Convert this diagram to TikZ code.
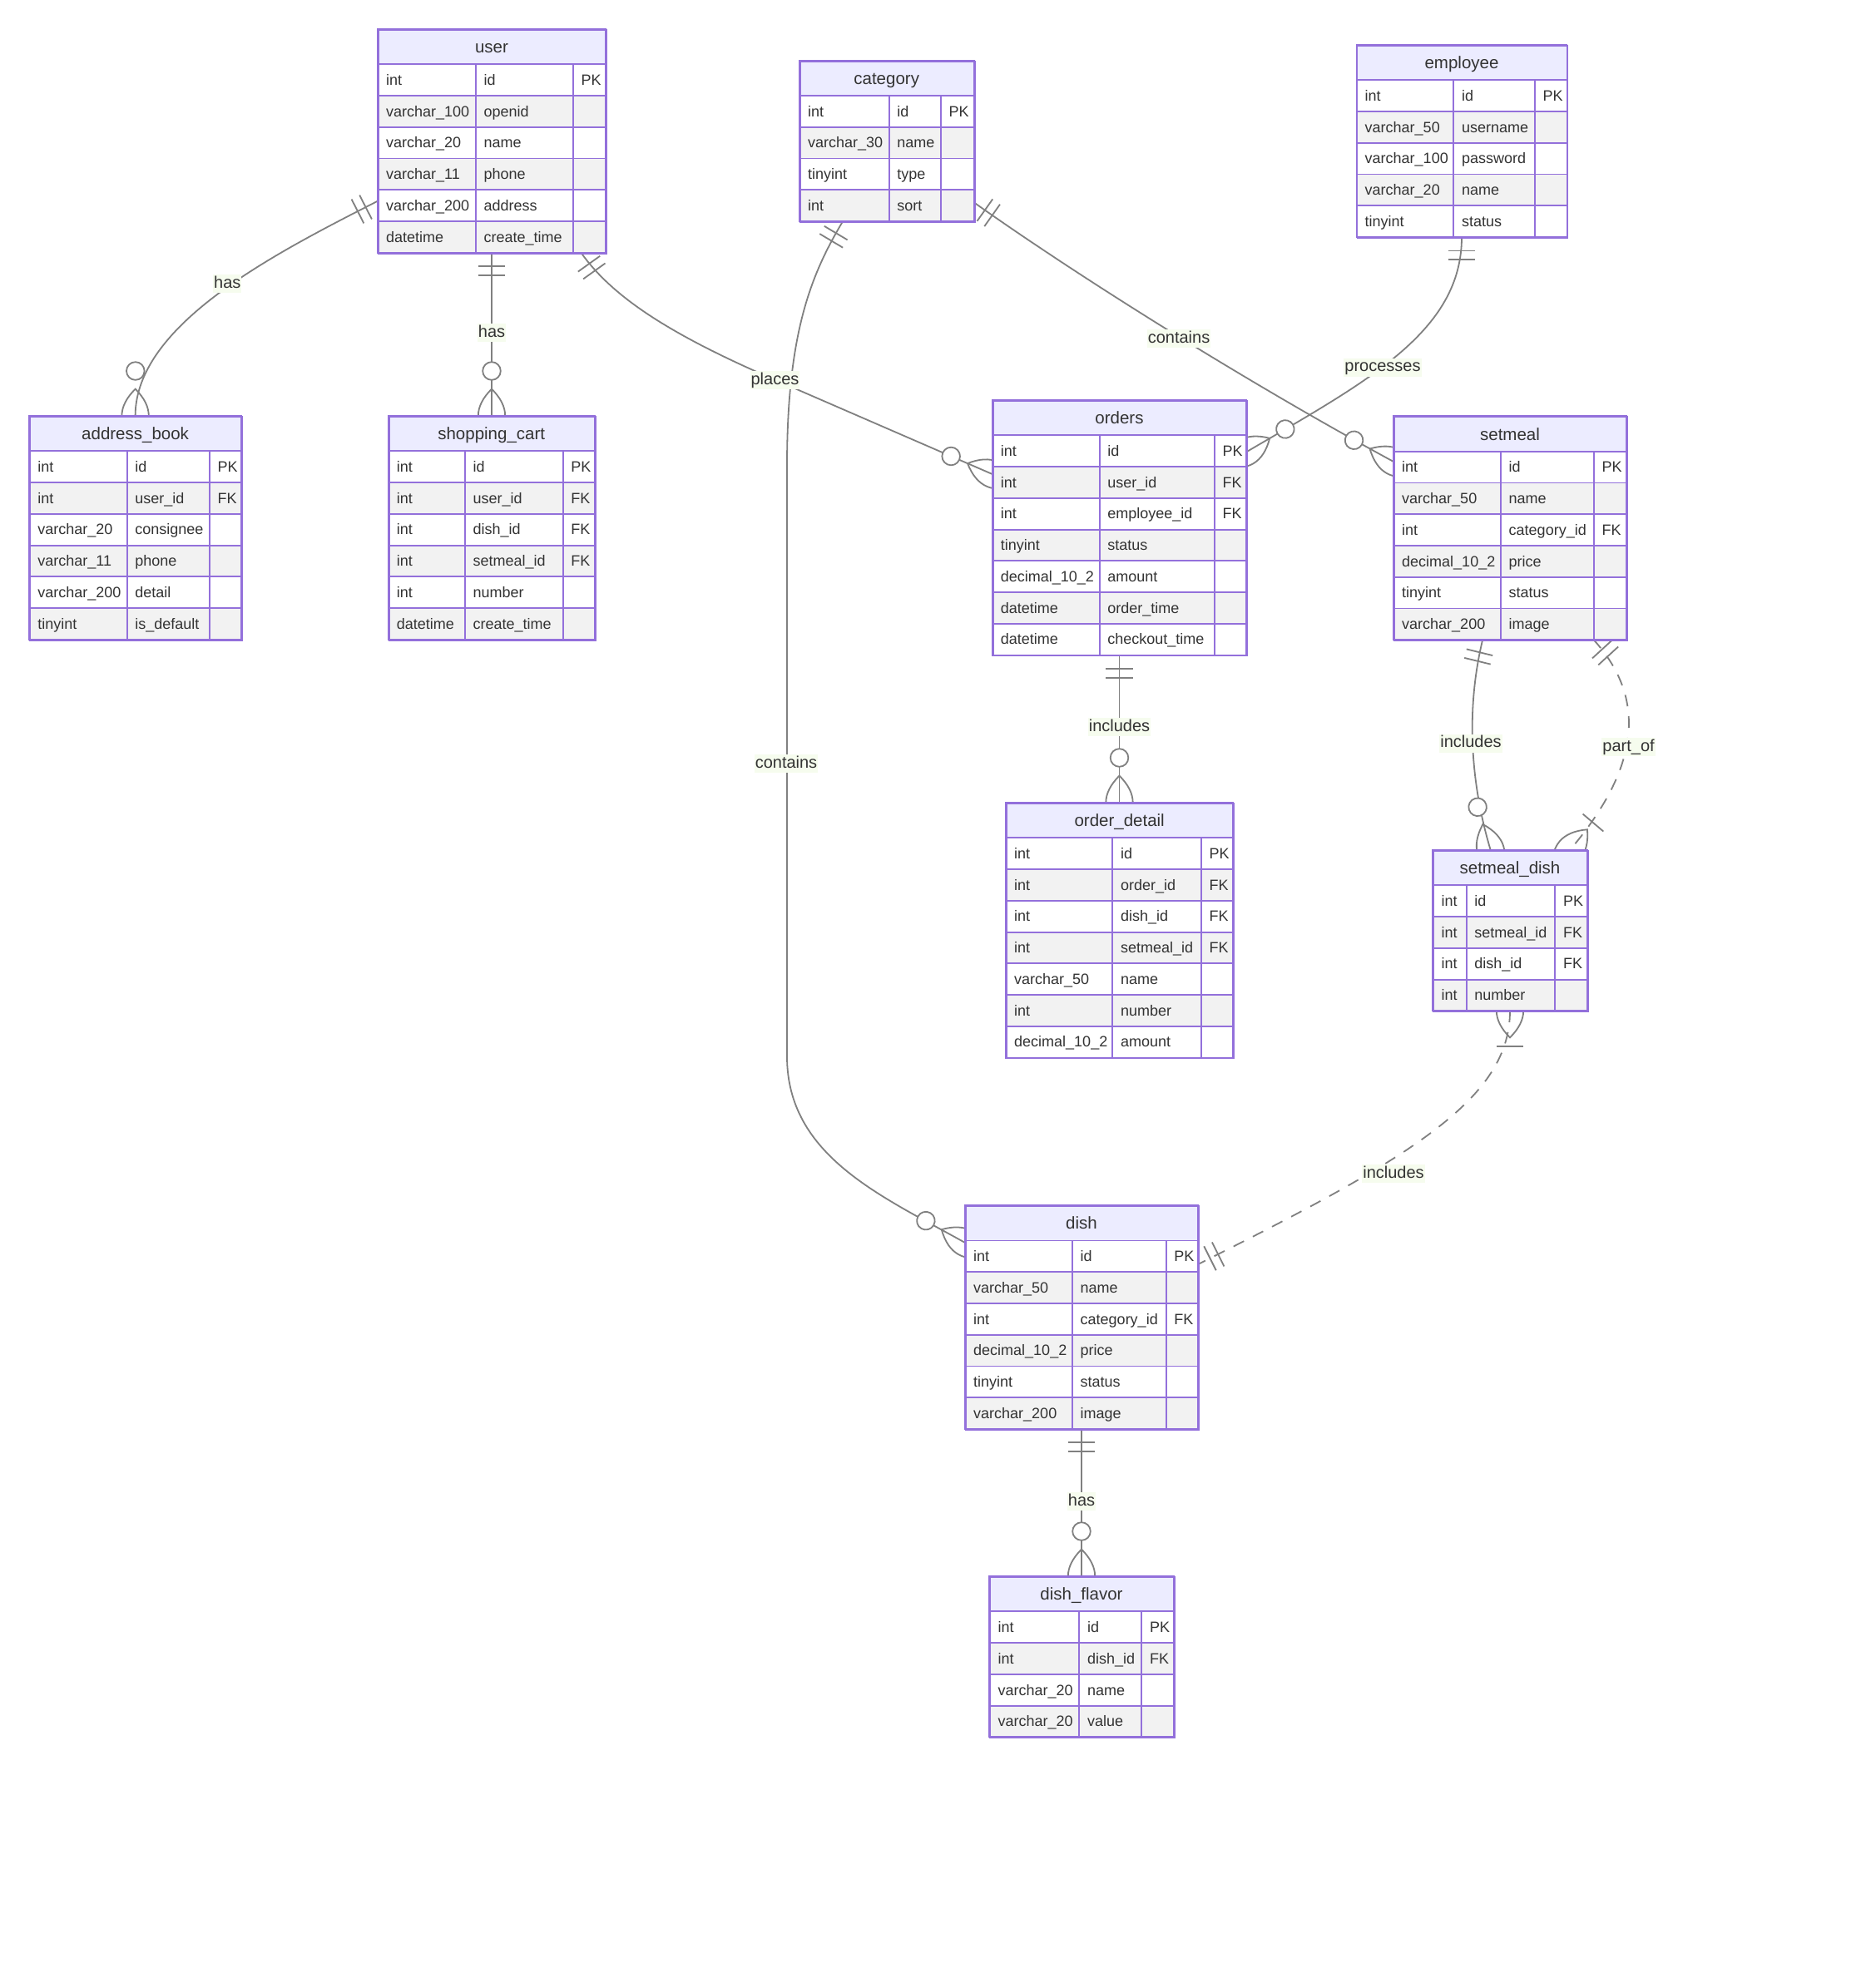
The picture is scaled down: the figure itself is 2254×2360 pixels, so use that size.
\documentclass[tikz,border=0pt]{standalone}
\usepackage{fontspec}
\setmainfont{Liberation Sans}
\usetikzlibrary{calc}
\definecolor{hdrfill}{HTML}{ECECFF}
\definecolor{bordc}{HTML}{9370DB}
\definecolor{evenrow}{HTML}{F2F2F2}
\definecolor{txtc}{HTML}{333333}
\definecolor{relc}{RGB}{128,128,128}
\definecolor{lblbg}{RGB}{246,252,238}

\tikzset{
  rel/.style={draw=relc, line width=1.8pt},
  reldash/.style={rel, dash pattern=on 14pt off 12pt},
  cellb/.style={draw=bordc, line width=1.9pt},
  attr/.style={anchor=base west, text=txtc, inner sep=0pt, font=\fontsize{18}{21}\selectfont},
  hdrtxt/.style={anchor=base, text=txtc, inner sep=0pt, font=\fontsize{20.5}{24}\selectfont},
  lbl/.style={fill=lblbg, text=txtc, inner sep=1pt, text height=15pt, text depth=5pt, font=\fontsize{20}{24}\selectfont},
  entbox/.style={draw=bordc, line width=1.9pt, inner sep=0pt, anchor=north west},
}

\newcommand\HH{42.3}
\newcommand\RH{37.75}

% #1 name, #2 title, #3 x0, #4 x1, #5 x2, #6 x3, #7 top, #8 number of rows, #9 rows
\newcommand\entity[9]{%
  \fill[hdrfill] (#3,#7) rectangle (#6,#7+\HH);
  \draw[cellb] (#3,#7) rectangle (#6,#7+\HH);
  \node[hdrtxt] at ({(#3+#6)/2},#7+\HH/2+7.5) {#2};
  \foreach \ty/\nm/\ky [count=\i] in {#9} {
    \pgfmathsetmacro\ya{#7+\HH+(\i-1)*\RH}
    \pgfmathsetmacro\yb{\ya+\RH}
    \pgfmathsetmacro\ym{\ya+\RH/2+6.3}
    \ifodd\i \def\rowc{white}\else\def\rowc{evenrow}\fi
    \fill[fill=\rowc] (#3,\ya) rectangle (#6,\yb);
    \draw[cellb] (#3,\ya) rectangle (#4,\yb) (#4,\ya) rectangle (#5,\yb) (#5,\ya) rectangle (#6,\yb);
    \node[attr] at (#3+10,\ym) {\ty};
    \node[attr] at (#4+9.5,\ym) {\nm};
    \node[attr] at (#5+9.5,\ym) {\ky};
  }
  \node[entbox, minimum width={(#6-#3)*1pt}, minimum height={(\HH+#8*\RH)*1pt}] (#1) at (#3,#7) {};
}

\newcommand\mkang[2]{%
  \pgfmathanglebetweenpoints{\pgfpointanchor{#1}{center}}{\pgfpointanchor{#2}{center}}%
  \edef\mang{\pgfmathresult}}
\newcommand\mOne[2]{\mkang{#1}{#2}%
  \begin{scope}[shift={(#1)}, rotate=\mang]
    \draw[rel] (16.2,-16.2) -- (16.2,16.2) (27,-16.2) -- (27,16.2);
  \end{scope}}
\newcommand\mZM[2]{\mkang{#1}{#2}%
  \begin{scope}[shift={(#1)}, rotate=\mang]
    \draw[rel] (-32.4,0) .. controls (-10.8,21.6) and (10.8,21.6) .. (32.4,0) .. controls (10.8,-21.6) and (-10.8,-21.6) .. (-32.4,0);
    \draw[rel, fill=white] (54,0) circle[radius=10.8pt];
  \end{scope}}
\newcommand\mOM[2]{\mkang{#1}{#2}%
  \begin{scope}[shift={(#1)}, rotate=\mang]
    \draw[rel] (-32.4,0) .. controls (-10.8,21.6) and (10.8,21.6) .. (32.4,0) .. controls (10.8,-21.6) and (-10.8,-21.6) .. (-32.4,0);
    \draw[rel] (43.2,-16.2) -- (43.2,16.2);
  \end{scope}}

\begin{document}
\begin{tikzpicture}[x=1pt, y=-1pt]
\fill[white] (0,0) rectangle (2254,2360);
\useasboundingbox (0,0) rectangle (2254,2360);

% ---------- connector end points ----------
% user -> address_book
\coordinate (ua) at (454,241.7);
\coordinate (uac1) at (330,305);
\coordinate (uac2) at (163,390);
\coordinate (abu) at (162.6,500);
% user -> shopping_cart
\coordinate (us) at (591,304);
\coordinate (scu) at (591,500);
% user -> orders
\coordinate (uo) at (698.6,304);
\coordinate (uoc1) at (735,355);
\coordinate (uoc2) at (800,400);
\coordinate (uom) at (931.7,456.7);
\coordinate (ou) at (1192.7,570);
% category -> dish
\coordinate (cd) at (1013,266.2);
\coordinate (cdc1) at (975,330);
\coordinate (cdc2) at (946,400);
\coordinate (cdm1) at (946,560);
\coordinate (cdm2) at (946,1270);
\coordinate (cdc3) at (946,1390);
\coordinate (cdc4) at (1060,1438);
\coordinate (dc) at (1160,1494);
% category -> setmeal
\coordinate (cs) at (1170.6,243.3);
\coordinate (csc1) at (1300,335);
\coordinate (csc2) at (1500,460);
\coordinate (sc) at (1675,555);
% employee -> orders
\coordinate (eo) at (1757,285.2);
\coordinate (eoc1) at (1757,400);
\coordinate (eoc2) at (1640,460);
\coordinate (oe) at (1498.3,543.3);
% orders -> order_detail
\coordinate (ood) at (1345.5,787.6);
\coordinate (odo) at (1345.5,965);
% setmeal -> setmeal_dish (includes)
\coordinate (ssd) at (1782.3,768.5);
\coordinate (ssdc1) at (1760,860);
\coordinate (ssdc2) at (1770,950);
\coordinate (sds) at (1791.7,1022);
% setmeal_dish -> setmeal (part_of)
\coordinate (spo) at (1915,768.5);
\coordinate (spoc1) at (1985,845);
\coordinate (spoc2) at (1965,930);
\coordinate (sdpo) at (1887,1022);
% setmeal_dish -> dish
\coordinate (sdd) at (1815,1215);
\coordinate (sddc1) at (1815,1320);
\coordinate (sddc2) at (1700,1390);
\coordinate (dsd) at (1440,1520);
% dish -> dish_flavor
\coordinate (ddf) at (1300,1717.7);
\coordinate (dfd) at (1300,1895);

% ---------- connectors ----------
\draw[rel] (ua) .. controls (uac1) and (uac2) .. (abu);
\draw[rel] (us) -- (scu);
\draw[rel] (uo) .. controls (uoc1) and (uoc2) .. (uom) -- (ou);
\draw[rel] (cd) .. controls (cdc1) and (cdc2) .. (cdm1) -- (cdm2) .. controls (cdc3) and (cdc4) .. (dc);
\draw[rel] (cs) .. controls (csc1) and (csc2) .. (sc);
\draw[rel] (eo) .. controls (eoc1) and (eoc2) .. (oe);
\draw[rel] (ood) -- (odo);
\draw[rel] (ssd) .. controls (ssdc1) and (ssdc2) .. (sds);
\draw[reldash] (spo) .. controls (spoc1) and (spoc2) .. (sdpo);
\draw[reldash] (sdd) .. controls (sddc1) and (sddc2) .. (dsd);
\draw[rel] (ddf) -- (dfd);

% ---------- markers ----------
\mOne{ua}{uac1}   \mZM{abu}{uac2}
\mOne{us}{scu}    \mZM{scu}{us}
\mOne{uo}{uoc1}   \mZM{ou}{uom}
\mOne{cd}{cdc1}   \mZM{dc}{cdc4}
\mOne{cs}{csc1}   \mZM{sc}{csc2}
\mOne{eo}{eoc1}   \mZM{oe}{eoc2}
\mOne{ood}{odo}   \mZM{odo}{ood}
\mOne{ssd}{ssdc1} \mZM{sds}{ssdc2}
\mOne{spo}{spoc1} \mOM{sdpo}{spoc2}
\mOM{sdd}{sddc1}  \mOne{dsd}{sddc2}
\mOne{ddf}{dfd}   \mZM{dfd}{ddf}

% ---------- labels ----------
\node[lbl] (l1) at (273.3,341) {has};
\node[lbl] (l2) at (591,400) {has};
\node[lbl] (l3) at (931.5,457) {places};
\node[lbl] (l4) at (945,918) {contains};
\node[lbl] (l5) at (1417,407) {contains};
\node[lbl] (l6) at (1662,441.7) {processes};
\node[lbl] (l7) at (1345.5,874) {includes};
\node[lbl] (l8) at (1768,893.5) {includes};
\node[lbl] (l9) at (1957.6,898.3) {part\_of};
\node[lbl] (l10) at (1675,1411.4) {includes};
\node[lbl] (l11) at (1300,1805) {has};

% ---------- entities ----------
\entity{user}{user}{454}{572}{689}{728}{35}{6}{int/id/PK, varchar\_100/openid/{}, varchar\_20/name/{}, varchar\_11/phone/{}, varchar\_200/address/{}, datetime/create\_time/{}}
\entity{category}{category}{960.8}{1068.7}{1131}{1170.6}{72.7}{4}{int/id/PK, varchar\_30/name/{}, tinyint/type/{}, int/sort/{}}
\entity{employee}{employee}{1630.5}{1747.4}{1845}{1883.5}{54}{5}{int/id/PK, varchar\_50/username/{}, varchar\_100/password/{}, varchar\_20/name/{}, tinyint/status/{}}
\entity{addressbook}{address\_book}{35.2}{152.7}{251.9}{290}{500}{6}{int/id/PK, int/user\_id/FK, varchar\_20/consignee/{}, varchar\_11/phone/{}, varchar\_200/detail/{}, tinyint/is\_default/{}}
\entity{shoppingcart}{shopping\_cart}{466.7}{559}{676.6}{714.7}{500}{6}{int/id/PK, int/user\_id/FK, int/dish\_id/FK, int/setmeal\_id/FK, int/number/{}, datetime/create\_time/{}}
\entity{orders}{orders}{1192.7}{1321.7}{1460}{1498.3}{481}{7}{int/id/PK, int/user\_id/FK, int/employee\_id/FK, tinyint/status/{}, decimal\_10\_2/amount/{}, datetime/order\_time/{}, datetime/checkout\_time/{}}
\entity{setmeal}{setmeal}{1675}{1804}{1916}{1955}{500.4}{6}{int/id/PK, varchar\_50/name/{}, int/category\_id/FK, decimal\_10\_2/price/{}, tinyint/status/{}, varchar\_200/image/{}}
\entity{setmealdish}{setmeal\_dish}{1722.3}{1762.7}{1869.3}{1907.7}{1022}{4}{int/id/PK, int/setmeal\_id/FK, int/dish\_id/FK, int/number/{}}
\entity{orderdetail}{order\_detail}{1209}{1337.3}{1444}{1482.3}{965}{7}{int/id/PK, int/order\_id/FK, int/dish\_id/FK, int/setmeal\_id/FK, varchar\_50/name/{}, int/number/{}, decimal\_10\_2/amount/{}}
\entity{dish}{dish}{1160}{1289}{1401.7}{1440}{1449.2}{6}{int/id/PK, varchar\_50/name/{}, int/category\_id/FK, decimal\_10\_2/price/{}, tinyint/status/{}, varchar\_200/image/{}}
\entity{dishflavor}{dish\_flavor}{1189.3}{1297.3}{1372.3}{1410.7}{1895}{4}{int/id/PK, int/dish\_id/FK, varchar\_20/name/{}, varchar\_20/value/{}}
\end{tikzpicture}
\end{document}
